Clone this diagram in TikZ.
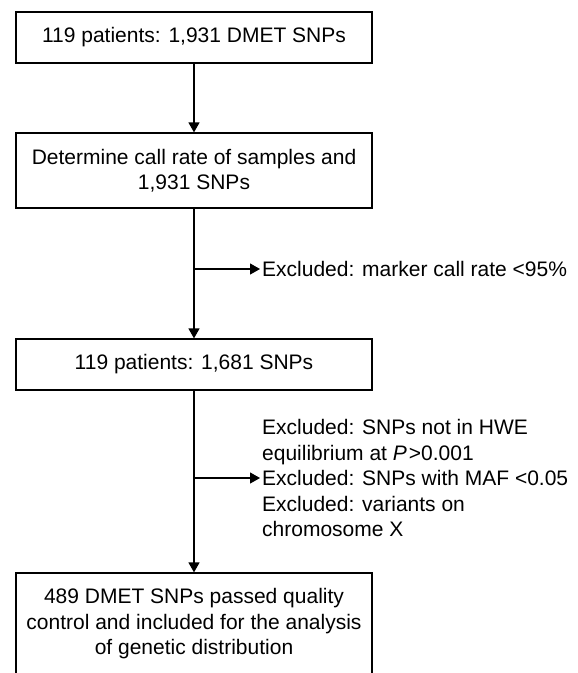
\documentclass[tikz,border=0pt]{standalone}
\usepackage{fontspec}
\setmainfont{Liberation Sans}
\usetikzlibrary{arrows.meta}
\begin{document}
\begin{tikzpicture}[x=1pt,y=-1pt,
  box/.style={draw, line width=1.2pt, minimum width=356pt, align=center, inner sep=0pt, font=\fontsize{21}{25.5}\selectfont},
  lbl/.style={align=left, inner xsep=2pt, inner ysep=0pt, anchor=west, font=\fontsize{21}{25.5}\selectfont},
  arr/.style={line width=1.2pt, -{Triangle[length=10pt,width=11pt]}},
  ]
\useasboundingbox (0,0) rectangle (578,673);
\clip (0,0) rectangle (578,673);
\node[box, minimum height=51pt] (b1) at (194,37.5) {119 patients: 1,931 DMET SNPs};
\node[box, minimum height=75pt] (b2) at (194,170.5) {Determine call rate of samples and\\1,931 SNPs};
\node[box, minimum height=51pt] (b3) at (194,364.5) {119 patients: 1,681 SNPs};
\node[box, minimum height=102pt] (b4) at (194,624) {489 DMET SNPs passed quality\\control and included for the analysis\\of genetic distribution};
\node[lbl] (e1) at (260,269) {Excluded: marker call rate <95\%};
\node[lbl] (e2) at (260,478) {Excluded: SNPs not in HWE\\equilibrium at \textit{P}\hspace{2pt}>0.001\\Excluded: SNPs with MAF <0.05\\Excluded: variants on\\chromosome X};
\coordinate (j1) at (b2.south |- e1.west);
\coordinate (j2) at (b3.south |- e2.west);
\draw[arr] (b1) -- (b2);
\draw[arr] (b2) -- (b3);
\draw[arr] (b3) -- (b4);
\draw[arr] (j1) -- (e1.west);
\draw[arr] (j2) -- (e2.west);
\end{tikzpicture}
\end{document}
